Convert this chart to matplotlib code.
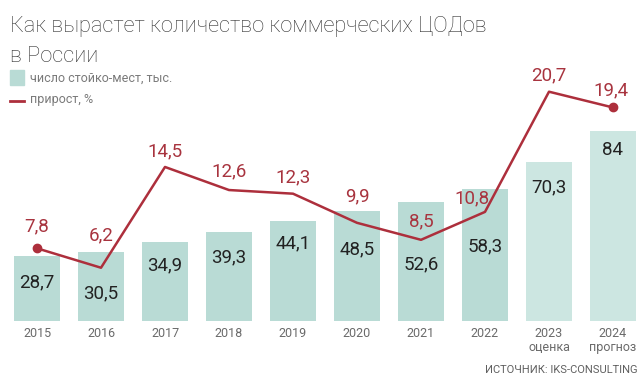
import matplotlib
matplotlib.use("Agg")
import matplotlib.pyplot as plt
import numpy as np

# Data
years = ['2015', '2016', '2017', '2018', '2019', '2020', '2021', '2022', '2023\nоценка', '2024\nпрогноз']
racks = [28.7, 30.5, 34.9, 39.3, 44.1, 48.5, 52.6, 58.3, 70.3, 84]
growth = [7.8, 6.2, 14.5, 12.6, 12.3, 9.9, 8.5, 10.8, 20.7, 19.4]

# label placement in pixels (drop below bar top / offset above line point)
bar_lbl_drop = [26, 41, 23, 25, 22, 38, 62, 57, 25, 19]
growth_lbl_dx = [0, 0, 0, 0, 0, 0, 0, -13, 0, -2]
growth_lbl_dy = [22, 32, 16, 19, 16, 26, 18, 14, 16, 17]
PX = 72 / 100  # pixels -> points

BAR = '#b9dbd5'
BAR_LIGHT = '#cce6e1'
RED = '#ad2f3c'
LBL_RED = '#a8343f'
NUM_FONT = ['Roboto', 'DejaVu Sans']

fig = plt.figure(figsize=(6.44, 3.84), dpi=100)
ax = fig.add_axes([0, 63 / 384, 1, 261 / 384])
x = np.arange(len(years))
colors = [BAR] * 8 + [BAR_LIGHT] * 2
ax.bar(x, racks, width=0.71, color=colors, zorder=1)
ax.set_xlim(-37 / 64, 607 / 64)
ax.set_ylim(0, 261 / 2.26)
ax.axis('off')

for i, v in enumerate(racks):
    ax.annotate(f'{v:g}'.replace('.', ','), (x[i], v), xytext=(0, -bar_lbl_drop[i] * PX),
                textcoords='offset points', ha='center', va='center',
                fontsize=13.5, color='#222222', family=NUM_FONT)

ax2 = ax.twinx()
ax2.set_ylim((343 - 321) / 12.14, (343 - 60) / 12.14)
ax2.plot(x, growth, color=RED, lw=1.8, zorder=3)
ax2.plot([x[0], x[-1]], [growth[0], growth[-1]], 'o', color=RED, ms=6, zorder=4)
ax2.axis('off')
for i, v in enumerate(growth):
    ax2.annotate(f'{v:g}'.replace('.', ','), (x[i], v),
                 xytext=(growth_lbl_dx[i] * PX, growth_lbl_dy[i] * PX),
                 textcoords='offset points', ha='center', va='center',
                 fontsize=13.5, color=LBL_RED, family=NUM_FONT)

for i, lab in enumerate(years):
    ax.annotate(lab, (x[i], 0), xytext=(0, -4), textcoords='offset points',
                ha='center', va='top', fontsize=9, color='#6a6a6a',
                linespacing=1.1, family=NUM_FONT)

# Title and legend
fig.text(10 / 644, 1 - 32 / 384, 'Как вырастет количество коммерческих ЦОДов',
         ha='left', va='baseline', fontsize=15.7, color='#333333', fontweight='light',
         family=NUM_FONT)
fig.text(10 / 644, 1 - 62 / 384, 'в России',
         ha='left', va='baseline', fontsize=15.7, color='#333333', fontweight='light',
         family=NUM_FONT)
fig.patches.append(plt.Rectangle((10 / 644, 1 - 85 / 384), 14 / 644, 15 / 384,
                                 transform=fig.transFigure, color=BAR))
fig.text(30 / 644, 1 - 78 / 384, 'число стойко-мест, тыс.', ha='left', va='center',
         fontsize=9, color='#7a7a7a', family=NUM_FONT)
fig.lines.append(plt.Line2D([10 / 644, 24 / 644], [1 - 101 / 384, 1 - 101 / 384],
                            transform=fig.transFigure, color=RED, lw=2))
fig.text(30 / 644, 1 - 100 / 384, 'прирост, %', ha='left', va='center',
         fontsize=9, color='#7a7a7a', family=NUM_FONT)
fig.text(638 / 644, 1 - 370 / 384, 'ИСТОЧНИК: IKS-CONSULTING', ha='right', va='center',
         fontsize=8, color='#606060', family=NUM_FONT)

fig.savefig('out.png', dpi=100)
